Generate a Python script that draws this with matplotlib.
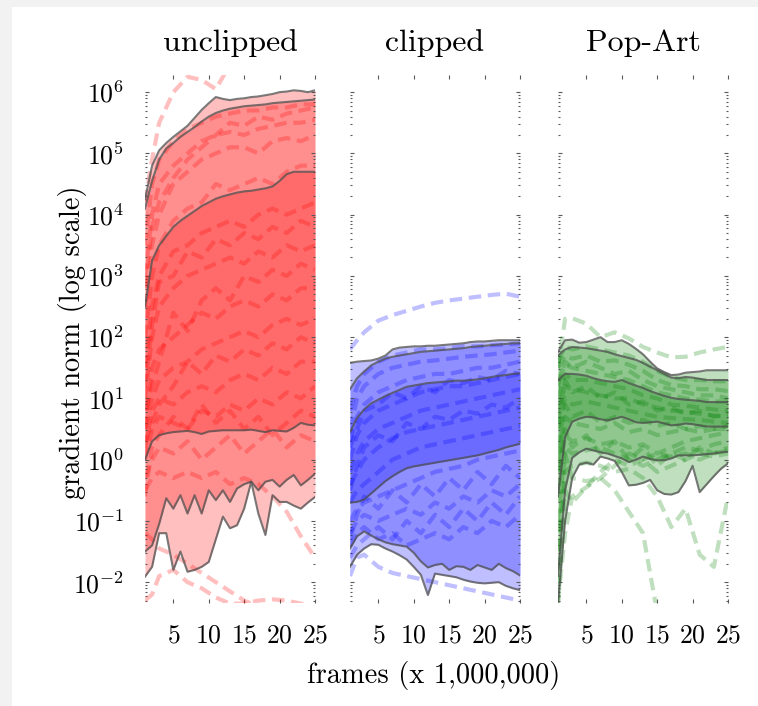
import numpy as np
import matplotlib
matplotlib.use("Agg")
import matplotlib.pyplot as plt
from matplotlib.patches import Rectangle
from matplotlib.ticker import LogLocator, NullFormatter

plt.rcParams['font.family'] = 'cmr10'
plt.rcParams['mathtext.fontset'] = 'cm'
plt.rcParams['axes.unicode_minus'] = False
plt.rcParams['axes.formatter.use_mathtext'] = True

'''Data (log10 of gradient norm)'''
frames = list(range(1, 26))  # millions of frames
game_frames = [1, 2, 3, 5, 7, 9, 11, 13, 15, 17, 19, 21, 23, 25]
titles = ["unclipped", "clipped", "Pop-Art"]

# unclipped: max, 90th, 75th, 25th, 10th, min
red_max = [4.25, 4.80, 5.05, 5.17, 5.27, 5.36, 5.45, 5.58, 5.71, 5.82, 5.92, 5.89, 5.87,
           5.89, 5.90, 5.92, 5.93, 5.95, 5.97, 6.00, 6.01, 6.03, 6.02, 6.00, 6.03]
red_p90 = [4.10, 4.55, 4.90, 5.08, 5.17, 5.27, 5.35, 5.43, 5.52, 5.60, 5.66, 5.70, 5.73,
           5.75, 5.77, 5.78, 5.79, 5.80, 5.82, 5.83, 5.84, 5.85, 5.86, 5.87, 5.88]
red_p75 = [2.50, 3.25, 3.50, 3.65, 3.80, 3.90, 3.98, 4.06, 4.14, 4.20, 4.26, 4.30, 4.33,
           4.36, 4.38, 4.39, 4.41, 4.43, 4.46, 4.55, 4.66, 4.70, 4.70, 4.70, 4.70]
red_p25 = [0.00, 0.30, 0.40, 0.43, 0.45, 0.46, 0.47, 0.45, 0.42, 0.46, 0.47, 0.48, 0.48,
           0.48, 0.48, 0.49, 0.47, 0.45, 0.48, 0.47, 0.46, 0.52, 0.60, 0.57, 0.56]
red_p10 = [-1.50, -1.40, -1.05, -0.63, -0.80, -0.58, -0.88, -0.58, -0.88, -0.50, -0.66, -0.50, -0.69,
           -0.47, -0.40, -0.36, -0.50, -0.36, -0.33, -0.44, -0.33, -0.25, -0.42, -0.33, -0.23]
red_min = [-1.91, -1.75, -1.20, -1.20, -1.80, -1.50, -1.83, -1.80, -1.75, -1.67, -1.30, -0.93, -1.12,
           -1.07, -0.80, -0.36, -0.88, -1.23, -0.58, -0.69, -0.69, -0.75, -0.80, -0.70, -0.61]

# clipped
blue_max = [1.58, 1.60, 1.61, 1.62, 1.65, 1.70, 1.80, 1.83, 1.84, 1.85, 1.85, 1.86, 1.86,
            1.87, 1.88, 1.89, 1.90, 1.92, 1.93, 1.93, 1.94, 1.95, 1.95, 1.95, 1.95]
blue_p90 = [1.15, 1.33, 1.44, 1.54, 1.60, 1.65, 1.68, 1.70, 1.72, 1.74, 1.76, 1.77, 1.78,
            1.79, 1.80, 1.81, 1.82, 1.84, 1.85, 1.86, 1.87, 1.88, 1.89, 1.90, 1.90]
blue_p75 = [0.45, 0.68, 0.82, 0.92, 0.98, 1.04, 1.09, 1.14, 1.19, 1.21, 1.23, 1.25, 1.26,
            1.27, 1.28, 1.29, 1.29, 1.30, 1.31, 1.33, 1.35, 1.37, 1.38, 1.40, 1.41]
blue_p25 = [-0.70, -0.69, -0.65, -0.55, -0.45, -0.35, -0.27, -0.20, -0.14, -0.11, -0.09, -0.07, -0.05,
            -0.03, -0.01, 0.01, 0.03, 0.05, 0.07, 0.10, 0.13, 0.16, 0.20, 0.23, 0.26]
blue_p10 = [-1.45, -1.25, -1.17, -1.24, -1.30, -1.35, -1.38, -1.40, -1.42, -1.52, -1.66, -1.76, -1.72,
            -1.70, -1.80, -1.74, -1.75, -1.80, -1.72, -1.76, -1.80, -1.70, -1.77, -1.82, -1.89]
blue_min = [-1.75, -1.55, -1.45, -1.38, -1.39, -1.45, -1.50, -1.56, -1.63, -1.75, -1.88, -2.21, -1.86,
            -1.88, -1.90, -1.92, -1.96, -1.99, -2.01, -2.02, -2.01, -2.00, -2.06, -2.10, -2.13]

# Pop-Art
green_max = [1.76, 1.95, 1.96, 1.91, 1.92, 1.96, 2.00, 1.92, 1.92, 1.95, 1.89, 1.81, 1.72,
             1.60, 1.49, 1.43, 1.38, 1.39, 1.42, 1.43, 1.44, 1.46, 1.46, 1.46, 1.46]
green_p90 = [1.70, 1.80, 1.84, 1.83, 1.82, 1.80, 1.78, 1.76, 1.72, 1.69, 1.66, 1.63, 1.58,
             1.52, 1.46, 1.40, 1.34, 1.33, 1.35, 1.34, 1.32, 1.30, 1.30, 1.30, 1.30]
green_p75 = [1.30, 1.40, 1.40, 1.39, 1.37, 1.33, 1.30, 1.28, 1.27, 1.30, 1.25, 1.21, 1.17,
             1.12, 1.08, 1.04, 1.01, 0.99, 0.98, 0.97, 0.96, 0.94, 0.94, 0.94, 0.94]
green_p25 = [-0.60, 0.37, 0.62, 0.67, 0.70, 0.69, 0.66, 0.64, 0.67, 0.70, 0.66, 0.61, 0.60,
             0.61, 0.62, 0.59, 0.56, 0.57, 0.59, 0.58, 0.56, 0.54, 0.54, 0.54, 0.54]
green_p10 = [-1.90, -0.50, 0.03, 0.12, 0.18, 0.15, 0.12, 0.10, 0.06, 0.02, -0.04, 0.00, 0.05,
             0.01, -0.01, -0.01, 0.02, 0.07, 0.07, 0.07, 0.08, 0.09, 0.10, 0.12, 0.13]
green_min = [-2.35, -1.00, -0.30, -0.08, -0.05, -0.08, 0.05, 0.02, -0.02, -0.20, -0.42, -0.41, -0.38,
             -0.33, -0.50, -0.56, -0.57, -0.53, -0.35, -0.10, -0.53, -0.40, -0.27, -0.15, -0.06]

# individual games (dashed), sampled at game_frames
red_games = [
    [4.20, 4.90, 5.50, 6.00, 6.25, 6.20, 6.05, 6.45, 6.60, 6.60, 6.60, 6.60, 6.60, 6.60],
    [3.50, 4.50, 4.90, 5.20, 5.40, 5.50, 5.60, 5.65, 5.70, 5.70, 5.75, 5.75, 5.80, 5.80],
    [3.00, 4.00, 4.50, 4.80, 5.00, 5.20, 5.30, 5.35, 5.30, 5.40, 5.45, 5.50, 5.50, 5.55],
    [2.80, 3.80, 4.20, 4.60, 4.90, 5.10, 5.30, 5.50, 5.45, 5.60, 5.55, 5.65, 5.70, 5.75],
    [2.50, 3.50, 4.00, 4.50, 4.70, 4.90, 5.00, 5.10, 5.10, 5.00, 5.20, 5.25, 5.20, 5.30],
    [2.00, 3.00, 3.50, 3.90, 4.10, 4.20, 4.50, 4.40, 4.50, 4.60, 4.50, 4.70, 4.80, 4.80],
    [1.50, 2.50, 3.00, 3.40, 3.50, 3.70, 3.80, 3.90, 3.80, 4.00, 4.10, 4.00, 4.10, 4.20],
    [1.20, 2.20, 2.90, 3.00, 3.40, 3.30, 3.60, 3.50, 3.70, 3.60, 3.80, 3.70, 3.90, 3.80],
    [1.00, 2.00, 2.50, 2.80, 3.00, 3.10, 3.20, 3.30, 3.20, 3.40, 3.30, 3.50, 3.40, 3.50],
    [0.80, 1.20, 1.60, 2.40, 2.10, 2.60, 2.80, 2.60, 3.00, 2.90, 3.10, 3.00, 3.20, 3.10],
    [0.50, 1.50, 1.80, 2.00, 2.20, 2.40, 2.30, 2.50, 2.60, 2.50, 2.70, 2.60, 2.80, 2.80],
    [0.50, 1.00, 1.30, 1.50, 1.60, 1.80, 1.90, 2.00, 2.10, 2.00, 2.20, 2.30, 2.20, 2.30],
    [0.30, 0.60, 0.90, 1.20, 1.60, 1.40, 1.70, 1.60, 1.80, 1.70, 1.90, 1.80, 2.00, 1.90],
    [0.20, 0.80, 1.00, 0.90, 1.10, 1.20, 1.10, 1.30, 1.40, 1.30, 1.50, 1.40, 1.60, 1.60],
    [0.00, 0.50, 0.70, 0.60, 0.50, 0.80, 0.70, 0.90, 0.80, 1.00, 0.90, 1.10, 1.00, 1.20],
    [-0.60, 0.20, 0.40, 0.70, 0.50, 0.90, 0.60, 0.80, 0.50, 0.70, 0.40, 0.60, 0.80, 0.70],
    [-0.30, 0.00, 0.20, 0.10, 0.30, 0.00, 0.20, 0.40, 0.10, 0.30, 0.50, 0.20, 0.40, 0.30],
    [-0.50, -0.30, -0.20, -0.30, -0.20, -0.30, -0.20, -0.40, -0.30, -0.40, -0.60, -0.85, -1.25, -1.60],
    [-1.20, -1.30, -1.45, -1.55, -1.70, -1.85, -2.00, -2.15, -2.30, -2.40, -2.45, -2.50, -2.50, -2.50],
    [-2.30, -2.20, -1.90, -1.80, -2.00, -2.10, -2.25, -2.35, -2.35, -2.30, -2.28, -2.30, -2.35, -2.40],
]
blue_games = [
    [1.80, 1.95, 2.08, 2.27, 2.36, 2.43, 2.50, 2.56, 2.60, 2.63, 2.66, 2.69, 2.71, 2.66],
    [0.80, 1.20, 1.40, 1.60, 1.70, 1.75, 1.80, 1.80, 1.82, 1.85, 1.85, 1.87, 1.88, 1.90],
    [0.50, 1.00, 1.20, 1.40, 1.50, 1.55, 1.60, 1.62, 1.65, 1.68, 1.70, 1.72, 1.75, 1.78],
    [0.30, 0.70, 0.90, 1.10, 1.20, 1.30, 1.35, 1.40, 1.40, 1.45, 1.50, 1.50, 1.55, 1.60],
    [0.20, 0.50, 0.80, 0.90, 1.10, 1.00, 1.20, 1.10, 1.30, 1.25, 1.35, 1.30, 1.45, 1.40],
    [0.00, 0.40, 0.60, 0.80, 0.90, 1.00, 1.10, 1.15, 1.20, 1.20, 1.25, 1.30, 1.35, 1.40],
    [-0.20, 0.10, 0.30, 0.50, 0.60, 0.70, 0.80, 0.85, 0.90, 0.95, 1.00, 1.05, 1.10, 1.15],
    [-0.50, -0.10, 0.20, 0.40, 0.30, 0.60, 0.50, 0.70, 0.65, 0.80, 0.75, 0.90, 0.85, 1.00],
    [-0.40, -0.20, 0.00, 0.20, 0.35, 0.45, 0.50, 0.55, 0.60, 0.65, 0.70, 0.75, 0.80, 0.85],
    [-0.70, -0.50, -0.40, -0.20, 0.00, 0.10, 0.20, 0.25, 0.30, 0.35, 0.40, 0.45, 0.50, 0.55],
    [-1.00, -0.80, -0.70, -0.60, -0.50, -0.40, -0.30, -0.20, -0.15, -0.10, 0.00, 0.05, 0.10, 0.15],
    [-1.20, -1.00, -0.90, -1.00, -0.90, -0.80, -0.90, -0.70, -0.80, -0.60, -0.70, -0.50, -0.60, -0.40],
    [-1.30, -0.90, -0.60, -0.80, -0.50, -0.70, -0.40, -0.60, -0.30, -0.50, -0.20, -0.40, -0.10, -0.30],
    [-1.40, -1.20, -1.10, -1.30, -1.20, -1.40, -1.30, -1.20, -1.30, -1.10, -1.20, -1.00, -1.10, -0.90],
    [-1.60, -1.40, -1.30, -1.10, -1.30, -1.00, -1.20, -0.90, -1.10, -0.80, -1.00, -0.70, -0.90, -0.60],
    [-1.90, -1.60, -1.55, -1.75, -1.85, -1.90, -1.95, -2.00, -2.05, -2.10, -2.15, -2.20, -2.25, -2.30],
]
green_games = [
    [1.50, 2.30, 2.31, 2.22, 2.00, 2.08, 1.98, 1.84, 1.75, 1.67, 1.68, 1.75, 1.80, 1.84],
    [1.60, 1.85, 1.80, 1.85, 1.80, 1.75, 1.70, 1.60, 1.45, 1.35, 1.30, 1.30, 1.28, 1.28],
    [1.50, 1.70, 1.65, 1.70, 1.60, 1.62, 1.55, 1.45, 1.30, 1.22, 1.20, 1.15, 1.15, 1.12],
    [1.30, 1.55, 1.50, 1.45, 1.40, 1.35, 1.30, 1.20, 1.10, 1.05, 1.00, 0.98, 0.95, 0.95],
    [1.20, 1.60, 1.50, 1.60, 1.50, 1.40, 1.45, 1.30, 1.20, 1.15, 1.10, 1.05, 1.05, 1.00],
    [1.00, 1.40, 1.30, 1.30, 1.25, 1.20, 1.15, 1.05, 1.00, 0.90, 0.88, 0.85, 0.82, 0.80],
    [0.80, 1.20, 1.15, 1.10, 1.05, 1.00, 1.00, 0.90, 0.85, 0.80, 0.78, 0.75, 0.72, 0.70],
    [0.60, 1.30, 1.10, 1.20, 1.00, 1.10, 0.90, 0.95, 0.80, 0.85, 0.75, 0.80, 0.70, 0.75],
    [0.50, 1.00, 0.90, 0.95, 0.90, 0.85, 0.80, 0.75, 0.70, 0.68, 0.66, 0.65, 0.62, 0.60],
    [0.20, 0.90, 0.70, 0.80, 0.60, 0.70, 0.60, 0.65, 0.55, 0.60, 0.50, 0.55, 0.50, 0.50],
    [0.00, 0.70, 0.60, 0.55, 0.50, 0.60, 0.45, 0.50, 0.40, 0.45, 0.50, 0.45, 0.50, 0.55],
    [-0.50, 0.40, 0.30, 0.35, 0.25, 0.30, 0.20, 0.25, 0.10, 0.20, 0.30, 0.35, 0.40, 0.45],
    [-0.20, 0.50, 0.20, 0.40, 0.10, 0.30, 0.00, 0.20, -0.10, 0.10, 0.00, 0.20, 0.10, 0.20],
    [-1.00, 0.20, 0.10, 0.15, 0.20, 0.10, 0.00, -0.10, 0.00, 0.10, 0.20, 0.15, 0.25, 0.30],
    [-2.40, -0.50, -0.70, -0.45, -0.20, 0.00, -0.10, 0.00, -0.20, -0.10, 0.00, 0.10, 0.05, 0.10],
    [-1.50, 0.10, -0.30, -0.35, -0.30, -0.50, -0.85, -1.20, -2.50, -2.60, -2.60, -2.60, -2.60, -2.60],
    [-1.80, -0.20, -0.10, -0.05, -0.10, -0.20, -0.15, -0.30, -0.60, -1.10, -0.80, -1.55, -1.75, -0.60],
    [-2.30, -1.20, -0.60, -0.45, -0.30, -0.10, 0.10, 0.00, 0.10, 0.05, 0.10, 0.00, 0.10, 0.15],
]

panels = [
    ("red", [red_max, red_p90, red_p75, red_p25, red_p10, red_min], red_games),
    ("blue", [blue_max, blue_p90, blue_p75, blue_p25, blue_p10, blue_min], blue_games),
    ("green", [green_max, green_p90, green_p75, green_p25, green_p10, green_min], green_games),
]

'''Figure'''
W, H = 758, 706
fig = plt.figure(figsize=(W / 100, H / 100), dpi=100)
fig.patch.set_facecolor('#f2f2f2')
fig.add_artist(Rectangle((12 / W, 0), 1, 1 - 7 / H, transform=fig.transFigure,
                         facecolor='white', edgecolor='none', zorder=-1))

lefts = [145, 350, 558]
x = np.array(frames)
gx = np.array(game_frames)
for i, (color, pct, games) in enumerate(panels):
    ax = fig.add_axes([lefts[i] / W, 1 - 603 / H, 170 / W, 528 / H])
    ax.set_facecolor('none')
    lines = [10 ** np.array(p) for p in pct]
    # nested percentile bands: outer, middle, inner
    for lo, hi in [(5, 0), (4, 1), (3, 2)]:
        ax.fill_between(x, lines[lo], lines[hi], color=color, alpha=0.25, linewidth=0)
    for g in games:
        ax.plot(gx, 10 ** np.array(g), color=color, alpha=0.25, lw=3,
                linestyle=(0, (3, 1.6)))
    for ln in lines:
        ax.plot(x, ln, color='0.3', alpha=0.75, lw=1.5)

    ax.set_yscale('log')
    ax.set_xlim(1, 25)
    ax.set_ylim(10 ** -2.34, 10 ** 6.28)
    ax.set_xticks([5, 10, 15, 20, 25])
    ax.yaxis.set_major_locator(LogLocator(base=10, numticks=20))
    ax.yaxis.set_minor_locator(LogLocator(base=10, subs=np.arange(2, 10), numticks=100))
    ax.yaxis.set_minor_formatter(NullFormatter())
    for s in ax.spines.values():
        s.set_visible(False)
    ax.tick_params(which='both', direction='in', top=True, right=True, color='0.35',
                   width=0.8, labelsize=18.5, pad=15)
    ax.tick_params(which='major', length=3)
    ax.tick_params(which='minor', length=1.5)
    if i > 0:
        ax.tick_params(axis='y', labelleft=False)
    ax.set_title(titles[i], fontsize=23, pad=17)

fig.text(73 / W, 1 - 342 / H, "gradient norm (log scale)", rotation=90,
         ha='center', va='center', fontsize=20.5)
fig.text(434 / W, 1 - 676 / H, "frames (x 1,000,000)", ha='center', va='center', fontsize=20.5)

plt.savefig("out.png", dpi=100, facecolor=fig.get_facecolor())
